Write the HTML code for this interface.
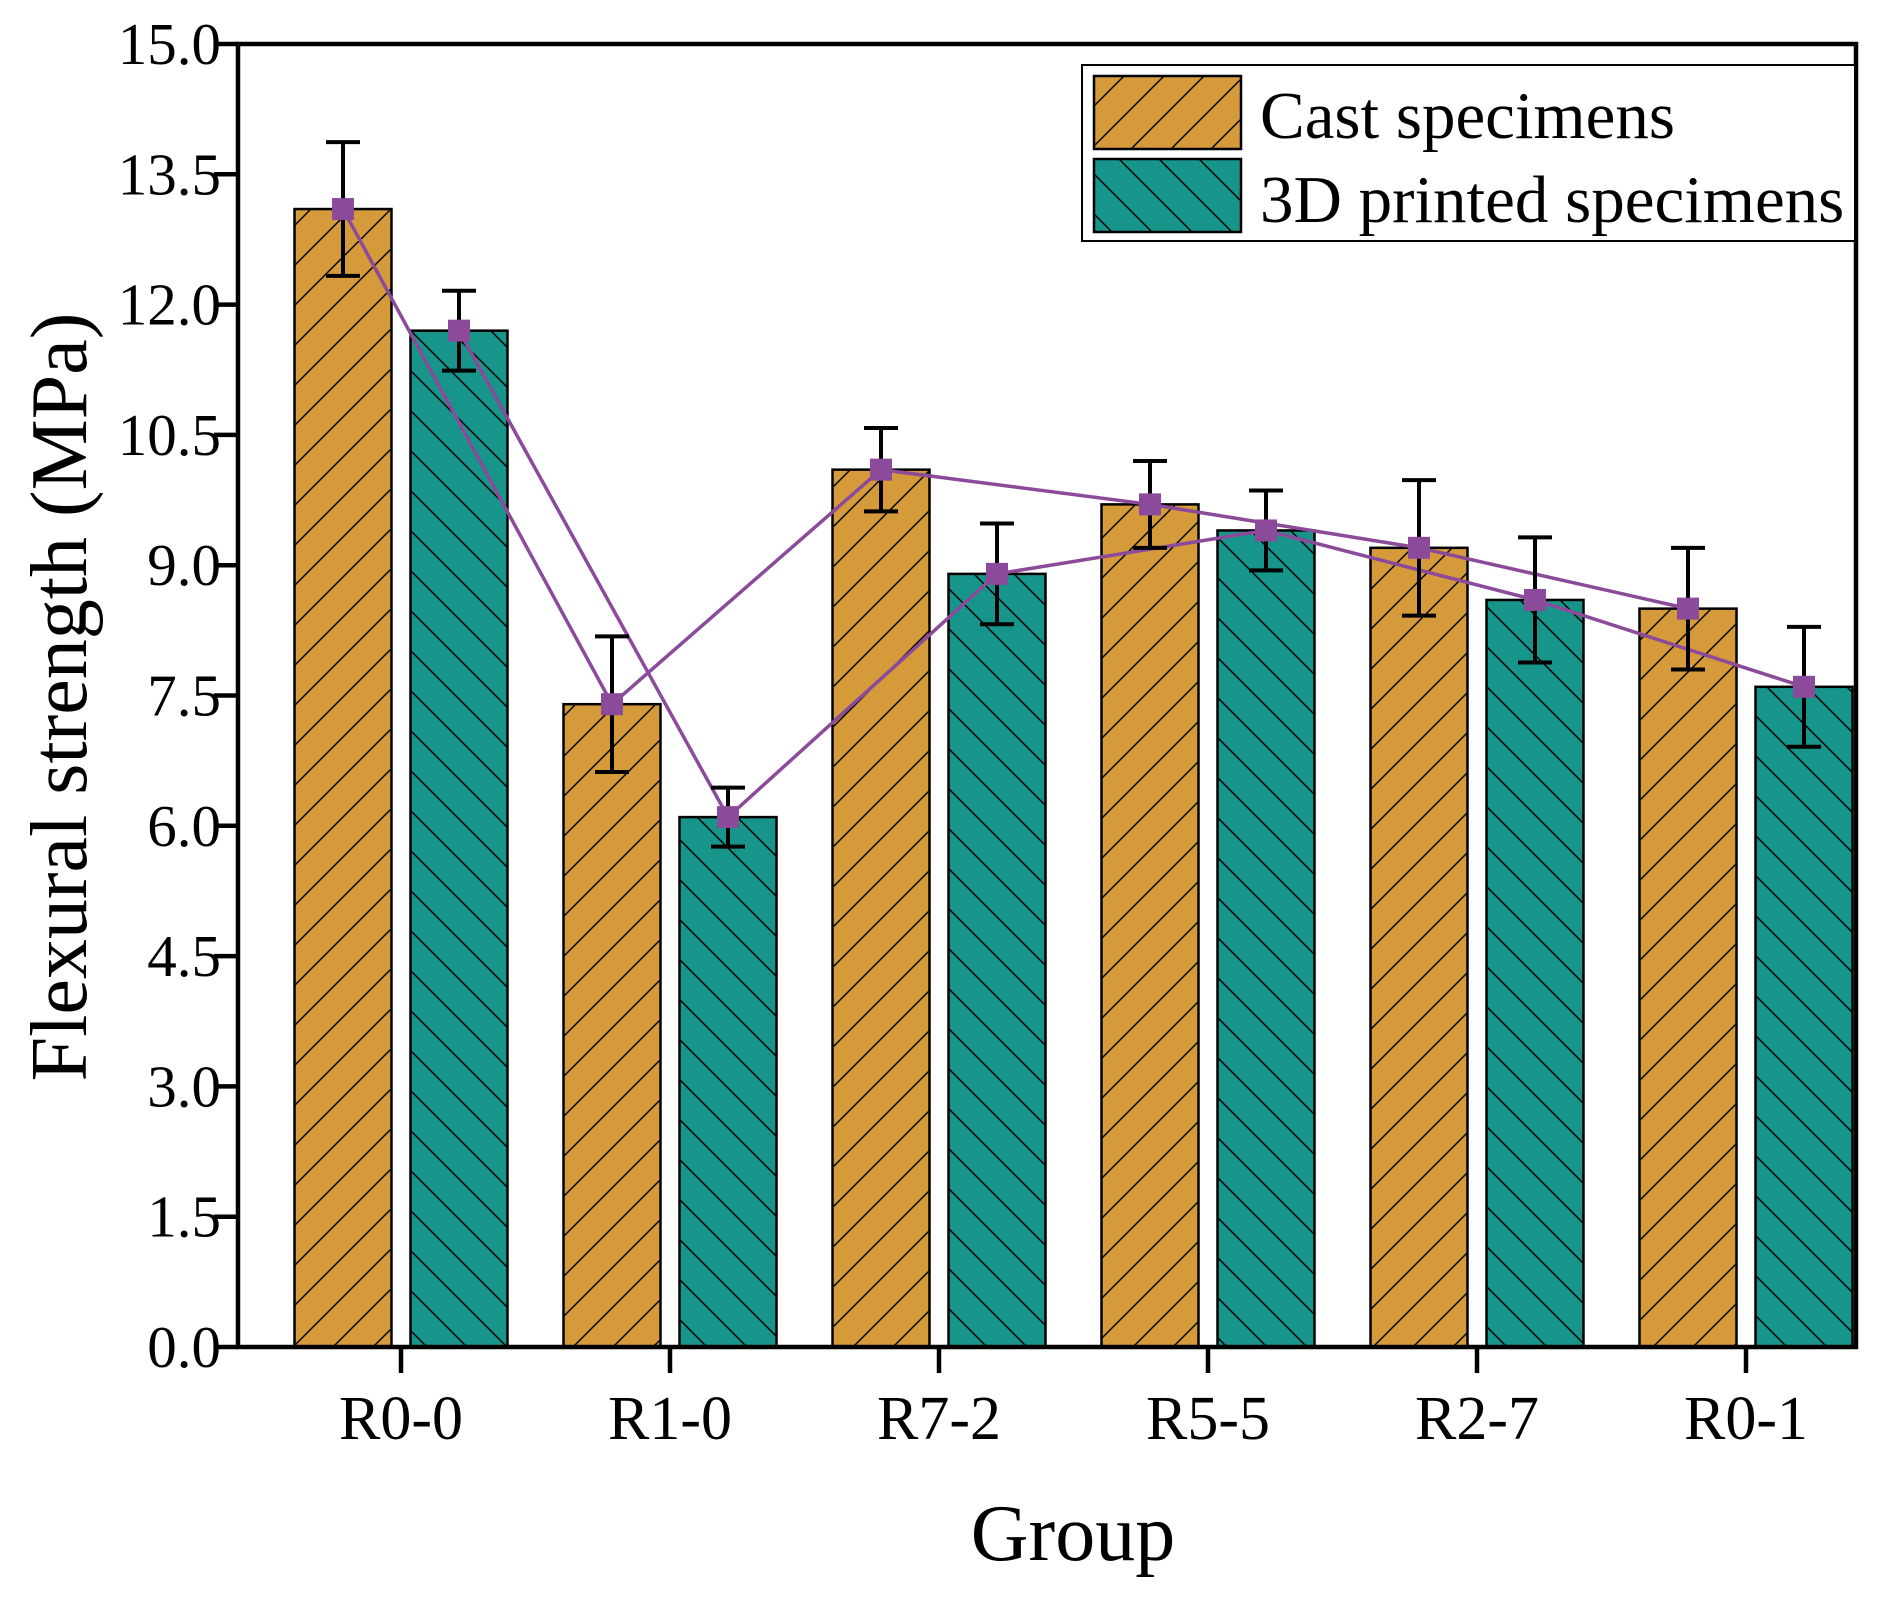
<!DOCTYPE html>
<html><head><meta charset="utf-8"><style>
html,body{margin:0;padding:0;background:#fff;}
svg text{font-family:"Liberation Serif",serif;fill:#000;}
</style></head><body>
<svg id="chart" width="1902" height="1593" viewBox="0 0 1902 1593" xmlns="http://www.w3.org/2000/svg">
<defs>
<pattern id="hatchCast" patternUnits="userSpaceOnUse" width="40" height="40">
<rect width="40" height="40" fill="#D59B3A"/>
<path d="M0,40 L40,0 M-10,10 L10,-10 M30,50 L50,30" stroke="#000" stroke-width="1.5"/>
</pattern>
<pattern id="hatch3D" patternUnits="userSpaceOnUse" width="40" height="40">
<rect width="40" height="40" fill="#17958A"/>
<path d="M0,0 L40,40 M-10,30 L10,50 M30,-10 L50,10" stroke="#000" stroke-width="1.5"/>
</pattern>
</defs>
<g id="plot"></g>
</svg>
<script>
const categories = ["R0-0","R1-0","R7-2","R5-5","R2-7","R0-1"];
const castValues = [13.1, 7.4, 10.1, 9.7, 9.2, 8.5];
const castErrors = [0.77, 0.78, 0.48, 0.5, 0.78, 0.7];
const printedValues = [11.7, 6.1, 8.9, 9.4, 8.6, 7.6];
const printedErrors = [0.46, 0.34, 0.58, 0.46, 0.72, 0.69];
const yTicks = [0, 1.5, 3, 4.5, 6, 7.5, 9, 10.5, 12, 13.5, 15];
const seriesNames = ["Cast specimens","3D printed specimens"];

const NS = "http://www.w3.org/2000/svg";
const g = document.getElementById("plot");
const L = 238, R = 1856, T = 44, B = 1347;
const yMax = 15;
const y = v => B - v / yMax * (B - T);
const x0 = 401, step = 269;
const xc = i => x0 + i * step;
const off = 58, bw = 97;

function mk(tag, attrs, parent) {
  const e = document.createElementNS(NS, tag);
  for (const k in attrs) e.setAttribute(k, attrs[k]);
  (parent || g).appendChild(e);
  return e;
}

[[castValues, "url(#hatchCast)", -off, "cast"], [printedValues, "url(#hatch3D)", off, "printed"]].forEach(([vals, fill, dx, nm]) => {
  vals.forEach((v, i) => {
    const r = mk("rect", {x: xc(i) + dx - bw / 2, y: y(v), width: bw, height: B - y(v), fill: fill, stroke: "#000", "stroke-width": 2.5});
    
    
  });
});

[[castValues, -off, "cast"], [printedValues, off, "printed"]].forEach(([vals, dx, nm]) => {
  const pts = vals.map((v, i) => (xc(i) + dx) + "," + y(v)).join(" ");
  const pl = mk("polyline", {points: pts, fill: "none", stroke: "#8B4A9A", "stroke-width": 3.5});
  
  
});

[[castValues, castErrors, -off, "cast"], [printedValues, printedErrors, off, "printed"]].forEach(([vals, errs, dx, nm]) => {
  vals.forEach((v, i) => {
    const cx = xc(i) + dx;
    const eg = mk("g", {stroke: "#000", "stroke-width": 4});
    
    
    mk("line", {x1: cx, x2: cx, y1: y(v + errs[i]), y2: y(v - errs[i])}, eg);
    mk("line", {x1: cx - 17, x2: cx + 17, y1: y(v + errs[i]), y2: y(v + errs[i])}, eg);
    mk("line", {x1: cx - 17, x2: cx + 17, y1: y(v - errs[i]), y2: y(v - errs[i])}, eg);
    const m = mk("rect", {x: cx - 11, y: y(v) - 11, width: 22, height: 22, fill: "#8B4A9A"});
    
    
  });
});

const frame = mk("rect", {x: L, y: T, width: R - L, height: B - T, fill: "none", stroke: "#000", "stroke-width": 4.5});



yTicks.forEach(t => {
  mk("line", {x1: L - 24, x2: L, y1: y(t), y2: y(t), stroke: "#000", "stroke-width": 4.5});
  const tx = mk("text", {x: 221, y: y(t) + 20, "text-anchor": "end", "font-size": 59});
  tx.textContent = t.toFixed(1);
  
  
});

categories.forEach((c, i) => {
  mk("line", {x1: xc(i), x2: xc(i), y1: B, y2: B + 26, stroke: "#000", "stroke-width": 4.5});
  const tx = mk("text", {x: xc(i), y: 1439, "text-anchor": "middle", "font-size": 62});
  tx.textContent = c;
  
  
});

const yt = mk("text", {x: 0, y: 0, "text-anchor": "middle", "font-size": 80, transform: "translate(86,697) rotate(-90)"});
yt.textContent = "Flexural strength (MPa)";


const xt = mk("text", {x: 1073, y: 1560, "text-anchor": "middle", "font-size": 80});
xt.textContent = "Group";



const lg = mk("g", {});


mk("rect", {x: 1082, y: 65, width: 773, height: 176, fill: "#fff", stroke: "#000", "stroke-width": 2}, lg);
[["url(#hatchCast)", 76, 134], ["url(#hatch3D)", 159, 218]].forEach((s, k) => {
  const sw = mk("rect", {x: 1094, y: s[1], width: 147, height: 73, fill: s[0], stroke: "#000", "stroke-width": 2.5}, lg);
  
  
  const lt = mk("text", {x: 1260, y: s[2] + 4, "font-size": 67}, lg);
  lt.textContent = seriesNames[k];
  
  
});
</script>
</body></html>
